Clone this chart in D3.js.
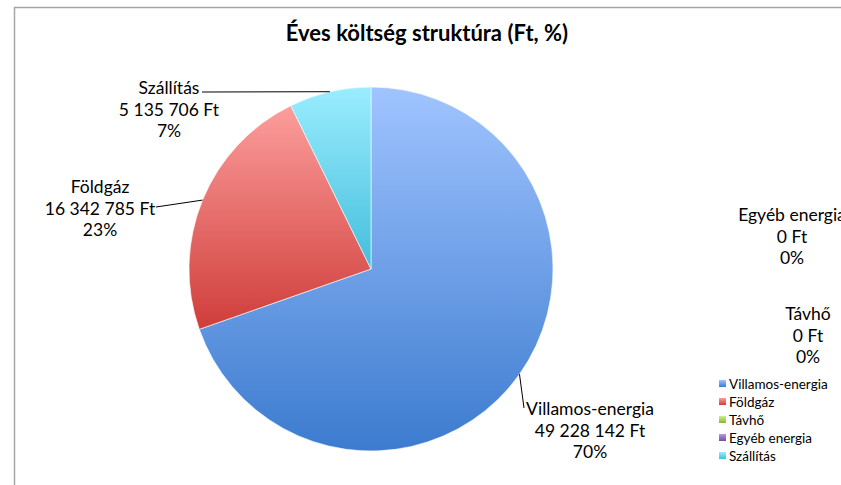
<!DOCTYPE html>
<html>
<head>
<meta charset="utf-8">
<script src="https://cdn.jsdelivr.net/npm/d3@7"></script>
<style>
  body { margin: 0; background: #fff; }
  #chart { width: 841px; height: 485px; overflow: hidden; }
  text { font-family: Lato, "Open Sans", sans-serif; fill: #000; }
</style>
</head>
<body>
<div id="chart"></div>
<script>
var categories = ["Villamos-energia", "Földgáz", "Távhő", "Egyéb energia", "Szállítás"]
var values = [49228142, 16342785, 0, 0, 5135706]
var chartTitle = "Éves költség struktúra (Ft, %)"

var width = 841, height = 485
var center = {x: 371, y: 269}
var radius = 182

// light (top) / dark (bottom) gradient stops per slice
var lightColors = ["#a0c4ff", "#fc9e9c", "#cdf08c", "#b49ddb", "#9aedff"]
var darkColors = ["#3c7bcf", "#cf3d3a", "#8cb43c", "#6e4f9c", "#44bedb"]

// label placement (text anchor center), relative to the chart
var labelPos = [
    {x: 590, y: 409, line: true, lx: 524, ly: 408},
    {x: 100, y: 187, line: true, lx: 156, ly: 207},
    {x: 808, y: 314, line: false},
    {x: 792, y: 215, line: false},
    {x: 169, y: 88, line: true, lx: 202, ly: 92}
]

var fmt = function(v) { return d3.format(",")(v).replace(/,/g, " ") + " Ft" }
var total = d3.sum(values)

var svg = d3.select("#chart")
    .append("svg")
    .attr("width", width)
    .attr("height", height)

// chart border (only top and left visible)
svg.append("rect")
    .attr("x", 14.5)
    .attr("y", 7.5)
    .attr("width", 900)
    .attr("height", 600)
    .attr("fill", "none")
    .attr("stroke", "#a6a6a6")
    .attr("stroke-width", 1.5)

svg.append("text")
    .attr("x", 427)
    .attr("y", 41)
    .attr("text-anchor", "middle")
    .style("font-size", "22px")
    .style("font-weight", "bold")
    .text(chartTitle)

var defs = svg.append("defs")
categories.forEach(function(c, i) {
    var g = defs.append("linearGradient")
        .attr("id", "grad" + i)
        .attr("x1", 0).attr("y1", 0).attr("x2", 0).attr("y2", 1)
    g.append("stop").attr("offset", "0%").attr("stop-color", lightColors[i])
    g.append("stop").attr("offset", "100%").attr("stop-color", darkColors[i])
})

var pie = d3.pie().sort(null).value(function(d) { return d })
var arcs = pie(values)
var arc = d3.arc().innerRadius(0).outerRadius(radius)

var pieG = svg.append("g")
    .attr("transform", "translate(" + center.x + "," + center.y + ")")

pieG.selectAll("path")
    .data(arcs.filter(function(d) { return d.value > 0 }))
    .enter()
    .append("path")
    .attr("d", arc)
    .attr("fill", function(d) { return "url(#grad" + d.index + ")" })
    .attr("stroke", "#ffffff")
    .attr("stroke-width", 0.6)

// leader lines
arcs.forEach(function(d, i) {
    var p = labelPos[i]
    if (!p.line) return
    var mid = (d.startAngle + d.endAngle) / 2
    var ex = center.x + radius * Math.sin(mid)
    var ey = center.y - radius * Math.cos(mid)
    svg.append("line")
        .attr("x1", p.lx).attr("y1", p.ly)
        .attr("x2", ex).attr("y2", ey)
        .attr("stroke", "#000")
        .attr("stroke-width", 1)
})

// data labels
arcs.forEach(function(d, i) {
    var p = labelPos[i]
    var lines = [categories[i], fmt(values[i]), Math.round(values[i] / total * 100) + "%"]
    var t = svg.append("text")
        .attr("text-anchor", "middle")
        .style("font-size", "17.5px")
    lines.forEach(function(s, k) {
        t.append("tspan")
            .attr("x", p.x)
            .attr("y", p.y + 6 + k * 21.5)
            .text(s)
    })
})

// legend
var legend = svg.append("g")
    .attr("transform", "translate(719,384)")
categories.forEach(function(c, i) {
    var row = legend.append("g").attr("transform", "translate(0," + (i * 18) + ")")
    row.append("rect")
        .attr("x", 0).attr("y", -4)
        .attr("width", 7).attr("height", 7)
        .attr("fill", "url(#grad" + i + ")")
    row.append("text")
        .attr("x", 10).attr("y", 4.5)
        .style("font-size", "13.5px")
        .text(c)
})
</script>
</body>
</html>
